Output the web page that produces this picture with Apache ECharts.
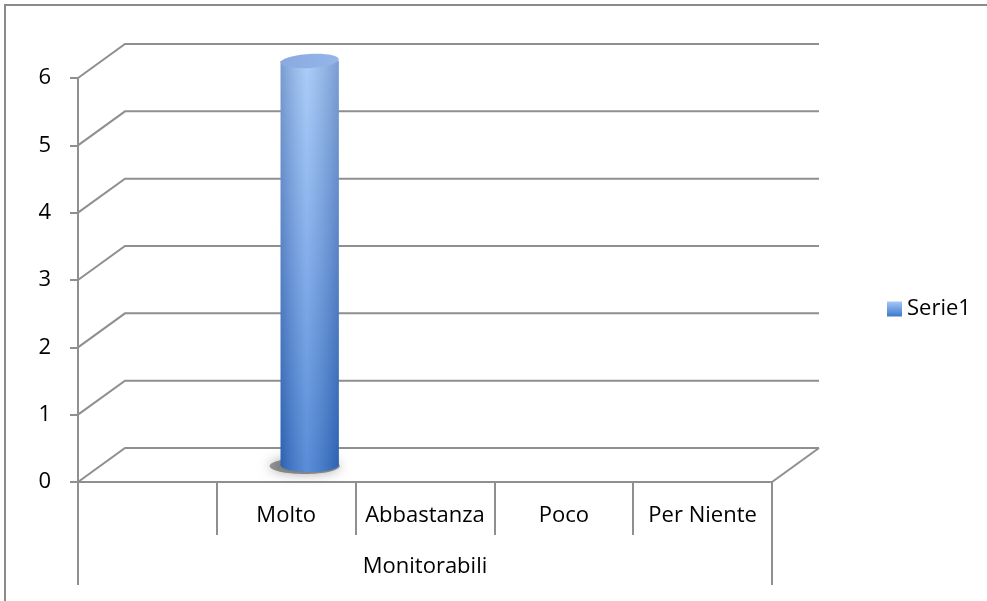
<!DOCTYPE html>
<html>
<head>
<meta charset="utf-8">
<script src="https://cdn.jsdelivr.net/npm/echarts@6/dist/echarts.min.js"></script>
<style>
  html, body { margin: 0; padding: 0; background: #fff; }
  #chart { width: 987px; height: 601px; }
</style>
</head>
<body>
<div id="chart"></div>
<script>
// dati
var categories = ['', 'Molto', 'Abbastanza', 'Poco', 'Per Niente'];
var groupLabel = ['Monitorabili'];
var serie1 = [null, 6, null, null, null];
var yTicks = [0, 1, 2, 3, 4, 5, 6];

// profondita' 3D (pixel)
var DX = 47, DY = -34;
var FONT = 'Open Sans';
var GRID_COLOR = '#8f8f8f';

var chart = echarts.init(document.getElementById('chart'));

function wallItem(params, api) {
    var cs = params.coordSys;
    var v = api.value(1);
    var y = api.coord([0, v])[1];
    var x0 = cs.x, x1 = cs.x + cs.width;
    var children = [{
        type: 'polyline',
        shape: { points: [[x0, y], [x0 + DX, y + DY], [x1 + DX, y + DY]] },
        style: { stroke: GRID_COLOR, lineWidth: 2, fill: null }
    }];
    if (v === 0) {
        // bordo destro del pavimento
        children.push({
            type: 'line',
            shape: { x1: x1, y1: y, x2: x1 + DX, y2: y + DY },
            style: { stroke: GRID_COLOR, lineWidth: 2 }
        });
    }
    return { type: 'group', children: children };
}

function cylinderItem(params, api) {
    var v = api.value(1);
    if (isNaN(v) || !v) return null;
    var i = api.value(0);
    var base = api.coord([i, 0]);
    var top = api.coord([i, v]);
    var band = api.size([1, 0])[0];
    var rx = band * 0.21, ry = 7;
    var cx = base[0] + DX / 2;
    var yb = base[1] + DY / 2;
    var yt = top[1] + DY / 2;
    var shade = function () {
        return new echarts.graphic.LinearGradient(0, 0, 1, 0, [
            { offset: 0, color: 'rgba(0,20,70,0.22)' },
            { offset: 0.45, color: 'rgba(255,255,255,0.16)' },
            { offset: 1, color: 'rgba(0,20,70,0.22)' }
        ]);
    };
    var body = new echarts.graphic.LinearGradient(0, 0, 0, 1, [
        { offset: 0, color: '#9cc3f7' },
        { offset: 0.5, color: '#6d9ee6' },
        { offset: 1, color: '#3a78cf' }
    ]);
    return {
        type: 'group',
        children: [
            {
                type: 'ellipse',
                shape: { cx: cx - 5, cy: yb + 1, rx: rx + 6, ry: ry + 1 },
                style: { fill: 'rgba(40,40,40,0.45)', shadowBlur: 12, shadowColor: 'rgba(0,0,0,0.7)' }
            },
            {
                type: 'ellipse',
                shape: { cx: cx, cy: yb, rx: rx, ry: ry },
                style: { fill: '#3a78cf' }
            },
            {
                type: 'ellipse',
                shape: { cx: cx, cy: yb, rx: rx, ry: ry },
                style: { fill: shade() }
            },
            {
                type: 'rect',
                shape: { x: cx - rx, y: yt, width: rx * 2, height: yb - yt },
                style: { fill: body }
            },
            {
                type: 'rect',
                shape: { x: cx - rx, y: yt, width: rx * 2, height: yb - yt },
                style: { fill: shade() }
            },
            {
                type: 'ellipse',
                shape: { cx: cx, cy: yt, rx: rx, ry: ry },
                rotation: 0.06,
                originX: cx, originY: yt,
                style: {
                    fill: new echarts.graphic.LinearGradient(0, 0, 1, 0, [
                        { offset: 0, color: '#8aa9e0' },
                        { offset: 1, color: '#94b6ea' }
                    ])
                }
            }
        ]
    };
}

var option = {
    backgroundColor: '#fff',
    animation: false,
    textStyle: { fontFamily: FONT },
    graphic: [{
        type: 'polyline',
        shape: { points: [[5, 601], [5, 5], [987, 5]] },
        style: { fill: null, stroke: '#8a8a8a', lineWidth: 2 },
        silent: true
    }],
    legend: {
        data: [{ name: 'Serie1', icon: 'rect' }],
        orient: 'vertical',
        left: 882,
        top: 293,
        itemWidth: 15,
        itemHeight: 15,
        itemGap: 6,
        textStyle: { fontFamily: FONT, fontSize: 22, color: '#000', padding: [0, 0, 0, 0] }
    },
    grid: { left: 78, right: 215, top: 78, bottom: 119, containLabel: false },
    xAxis: [{
        type: 'category',
        data: categories,
        position: 'bottom',
        axisLine: { show: true, lineStyle: { color: GRID_COLOR, width: 2 } },
        axisTick: { show: true, length: 53, lineStyle: { color: GRID_COLOR, width: 2 } },
        axisLabel: { fontFamily: FONT, fontSize: 22, color: '#000', margin: 23, interval: 0 },
        splitLine: { show: false }
    }, {
        type: 'category',
        data: groupLabel,
        position: 'bottom',
        axisLine: { show: false },
        axisTick: { show: true, length: 103, lineStyle: { color: GRID_COLOR, width: 2 } },
        axisLabel: { fontFamily: FONT, fontSize: 22, color: '#000', margin: 74 },
        splitLine: { show: false }
    }],
    yAxis: {
        type: 'value',
        min: 0,
        max: 6,
        interval: 1,
        axisLine: { show: true, lineStyle: { color: GRID_COLOR, width: 2 } },
        axisTick: { show: true, length: 8, lineStyle: { color: GRID_COLOR, width: 2 } },
        axisLabel: { fontFamily: FONT, fontSize: 22, color: '#000', margin: 27 },
        splitLine: { show: false }
    },
    series: [{
        name: 'pareti',
        type: 'custom',
        xAxisIndex: 0,
        silent: true,
        z: 1,
        renderItem: wallItem,
        data: yTicks.map(function (v) { return [0, v]; })
    }, {
        name: 'Serie1',
        type: 'custom',
        xAxisIndex: 0,
        z: 5,
        itemStyle: {
            color: new echarts.graphic.LinearGradient(0, 0, 0, 1, [
                { offset: 0, color: '#a6c8f7' },
                { offset: 1, color: '#3c78cc' }
            ])
        },
        renderItem: cylinderItem,
        data: serie1.map(function (v, i) { return [i, v]; })
    }]
};

chart.setOption(option);
</script>
</body>
</html>
